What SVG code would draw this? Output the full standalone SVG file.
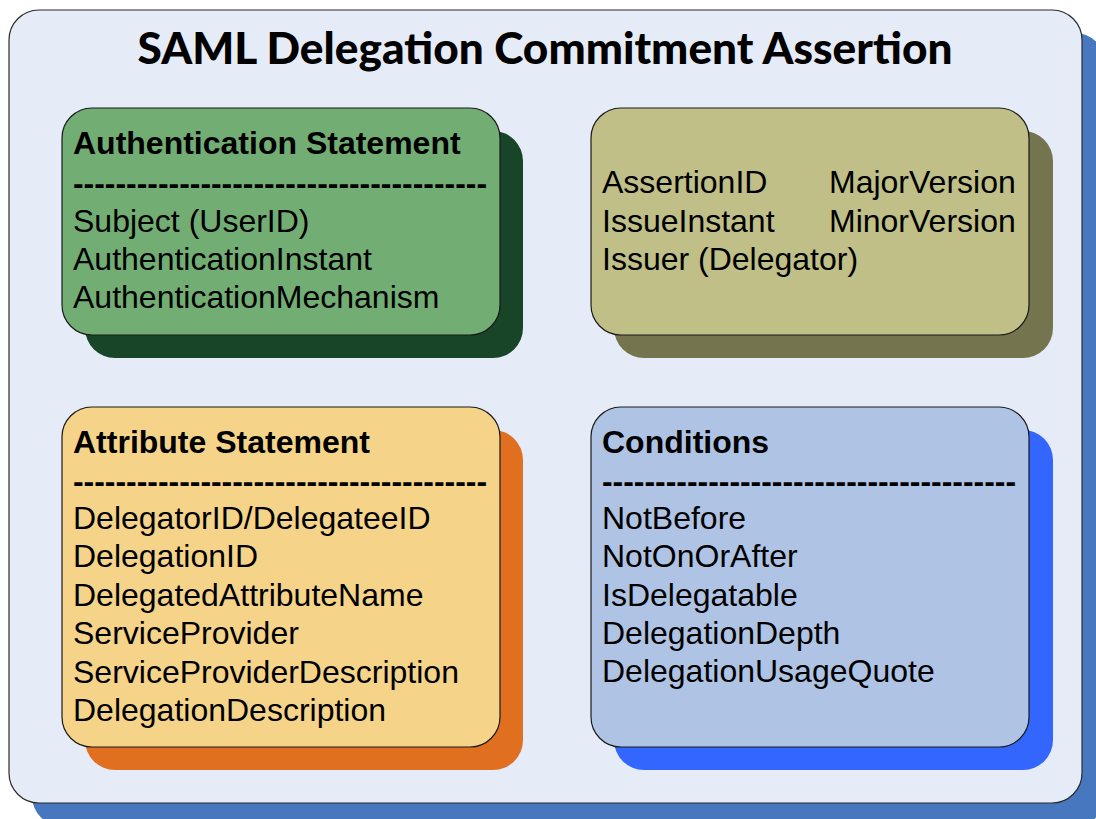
<svg xmlns="http://www.w3.org/2000/svg" width="1096" height="819" viewBox="0 0 1096 819">
  <style>
    .frame { stroke: #2b2b2b; stroke-width: 1.2; }
    .card { stroke: #1a1a1a; stroke-width: 1.2; }
    .title { font-family: Lato, "Open Sans", "Liberation Sans", sans-serif; font-weight: 900; font-size: 43px; fill: #000; }
    .head { font-family: "Liberation Sans", Arial, sans-serif; font-weight: bold; font-size: 32px; fill: #000; }
    .item { font-family: "Liberation Sans", Arial, sans-serif; font-size: 32px; fill: #000; }
  </style>

  <!-- outer assertion frame with its drop shadow -->
  <g id="assertion">
    <rect x="32" y="33" width="1073" height="793" rx="30" fill="#4677BF"/>
    <rect class="frame" x="9" y="10" width="1073" height="793" rx="30" fill="#E6ECF7"/>
    <text class="title" x="545" y="64" text-anchor="middle" textLength="815" lengthAdjust="spacingAndGlyphs">SAML Delegation Commitment Assertion</text>
  </g>

  <!-- Authentication Statement -->
  <g id="authn">
    <rect x="85" y="131" width="438" height="227" rx="30" fill="#184428"/>
    <rect class="card" x="62" y="108" width="438" height="227" rx="30" fill="#72AE74"/>
    <text class="head" x="73" y="154">Authentication Statement</text>
    <text class="head" x="73" y="194" textLength="414" lengthAdjust="spacingAndGlyphs">---------------------------------------</text>
    <text class="item" x="73" y="232">Subject (UserID)</text>
    <text class="item" x="73" y="270">AuthenticationInstant</text>
    <text class="item" x="73" y="308">AuthenticationMechanism</text>
  </g>

  <!-- Assertion header attributes -->
  <g id="header">
    <rect x="614" y="131" width="439" height="227" rx="30" fill="#74744F"/>
    <rect class="card" x="591" y="108" width="438" height="227" rx="30" fill="#BFBF87"/>
    <text class="item" x="602" y="193">AssertionID</text>
    <text class="item" x="829" y="193">MajorVersion</text>
    <text class="item" x="602" y="232">IssueInstant</text>
    <text class="item" x="829" y="232">MinorVersion</text>
    <text class="item" x="602" y="270">Issuer (Delegator)</text>
  </g>

  <!-- Attribute Statement -->
  <g id="attr">
    <rect x="85" y="430" width="438" height="340" rx="30" fill="#E07020"/>
    <rect class="card" x="62" y="407" width="438" height="340" rx="30" fill="#F5D48A"/>
    <text class="head" x="73" y="453">Attribute Statement</text>
    <text class="head" x="73" y="492" textLength="414" lengthAdjust="spacingAndGlyphs">---------------------------------------</text>
    <text class="item" x="73" y="529">DelegatorID/DelegateeID</text>
    <text class="item" x="73" y="567">DelegationID</text>
    <text class="item" x="73" y="606">DelegatedAttributeName</text>
    <text class="item" x="73" y="644">ServiceProvider</text>
    <text class="item" x="73" y="683">ServiceProviderDescription</text>
    <text class="item" x="73" y="721">DelegationDescription</text>
  </g>

  <!-- Conditions -->
  <g id="conditions">
    <rect x="614" y="430" width="439" height="340" rx="30" fill="#3366FF"/>
    <rect class="card" x="591" y="407" width="438" height="340" rx="30" fill="#AFC4E4"/>
    <text class="head" x="602" y="453">Conditions</text>
    <text class="head" x="602" y="492" textLength="414" lengthAdjust="spacingAndGlyphs">---------------------------------------</text>
    <text class="item" x="602" y="529">NotBefore</text>
    <text class="item" x="602" y="567">NotOnOrAfter</text>
    <text class="item" x="602" y="606">IsDelegatable</text>
    <text class="item" x="602" y="644">DelegationDepth</text>
    <text class="item" x="602" y="682">DelegationUsageQuote</text>
  </g>

  <!-- no connectors in this figure -->
  <g id="connectors"/>
</svg>
